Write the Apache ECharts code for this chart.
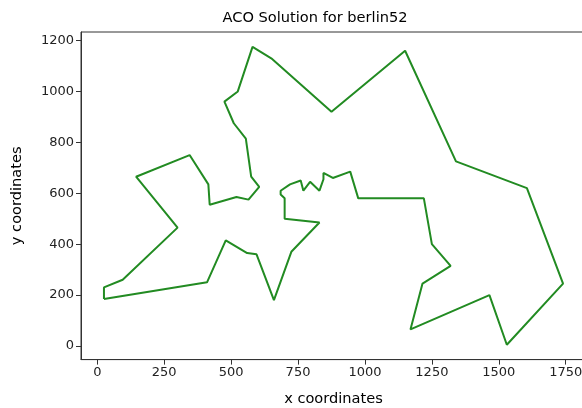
<!DOCTYPE html>
<html>
<head>
<meta charset="utf-8">
<script src="https://cdn.jsdelivr.net/npm/echarts@6/dist/echarts.min.js"></script>
<style>html,body{margin:0;padding:0;background:#fff}#c{width:582px;height:408px}</style>
</head>
<body>
<div id="c"></div>
<script>
var tourX = [25,410,480,560,595,660,725,830,700,700,685,685,720,760,770,795,830,835,845,845,880,945,975,1220,1250,1320,1215,1170,1465,1530,1740,1605,1340,1150,875,650,580,525,475,510,555,575,605,565,520,420,415,345,145,300,95,25,25];
var tourY = [185,250,415,365,360,180,370,485,500,580,595,610,635,650,610,645,610,625,655,680,660,685,580,580,400,315,245,65,200,5,245,620,725,1160,920,1130,1175,1000,960,875,815,665,625,575,585,555,635,750,665,465,260,230,185];
var xTicks = [0,250,500,750,1000,1250,1500,1750];
var yTicks = [0,200,400,600,800,1000,1200];

var pts = tourX.map(function(x,i){return [x,tourY[i]];});
var font = 'DejaVu Sans';
var chart = echarts.init(document.getElementById('c'), null, {renderer:'canvas'});
chart.setOption({
  animation:false,
  backgroundColor:'#fff',
  title:{text:'ACO Solution for berlin52', left:310, top:6, textAlign:'center',
    textStyle:{fontFamily:font,fontSize:14.6,fontWeight:'normal',color:'#000'}},
  grid:{left:81, top:32, width:505, height:327.6, show:true, borderColor:'#333', borderWidth:1,
    backgroundColor:'transparent', containLabel:false, outerBoundsMode:'none'},
  xAxis:{type:'value', min:-60.75, max:1825.75,
    name:'x coordinates', nameLocation:'middle', nameGap:32,
    nameTextStyle:{fontFamily:font,fontSize:14.6,color:'#000'},
    splitLine:{show:false},
    axisLine:{show:true,onZero:false,lineStyle:{color:'#333'}},
    axisTick:{show:true,inside:false,length:5,customValues:xTicks,lineStyle:{color:'#333'}},
    axisLabel:{customValues:xTicks,fontFamily:font,fontSize:13,color:'#222',margin:7,
      formatter:function(v){return String(v);}}},
  yAxis:{type:'value', min:-53.5, max:1233.5,
    name:'y coordinates', nameLocation:'middle', nameGap:56, nameRotate:90,
    nameTextStyle:{fontFamily:font,fontSize:14.6,color:'#000'},
    splitLine:{show:false},
    axisLine:{show:true,onZero:false,lineStyle:{color:'#333'}},
    axisTick:{show:true,inside:false,length:5,customValues:yTicks,lineStyle:{color:'#333'}},
    axisLabel:{customValues:yTicks,fontFamily:font,fontSize:13,color:'#222',margin:7,
      formatter:function(v){return String(v);}}},
  series:[{type:'line', data:pts, showSymbol:false, symbol:'none',
    lineStyle:{color:'#228B22', width:2}, itemStyle:{color:'#228B22'}, silent:true}]
});
</script>
</body>
</html>
